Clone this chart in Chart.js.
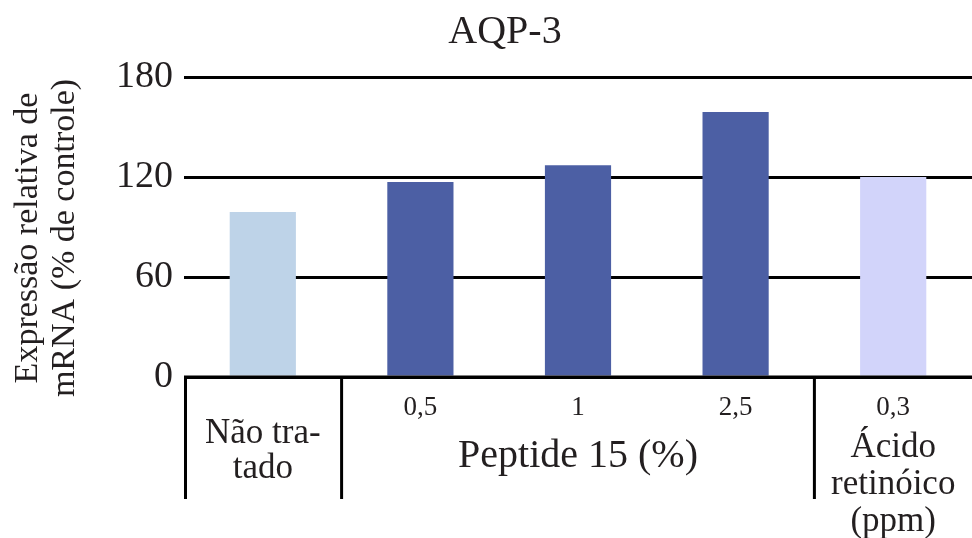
<!DOCTYPE html>
<html>
<head>
<meta charset="utf-8">
<script src="https://cdn.jsdelivr.net/npm/chart.js@4"></script>
<style>
  html, body { margin: 0; padding: 0; background: #fff; }
</style>
</head>
<body>
<canvas id="myChart" width="972" height="538"></canvas>
<script>
// Data

const categories = ["Não tratado", "Peptide 15 0,5", "Peptide 15 1", "Peptide 15 2,5", "Ácido retinóico 0,3"];
const tickLabels = ["", "0,5", "1", "2,5", "0,3"];
const values = [99, 117, 127, 159, 120];
const barColors = ["#bed3e8", "#4c5fa4", "#4c5fa4", "#4c5fa4", "#d2d4fa"];
const yTicks = [0, 60, 120, 180];

const titleText = "AQP-3";
const yTitleLines = ["Expressão relativa de", "mRNA (% de controle)"];

// groups under the axis: first index, last index, text lines
const groupNames = [["Não tra-", "tado"], ["Peptide 15 (%)"], ["Ácido", "retinóico", "(ppm)"]];
const groupFrom = [0, 1, 4];
const groupTo = [0, 3, 4];

const ink = "#231f20";
const serif = "'Liberation Serif', 'DejaVu Serif', serif";

// Plugin for title, y title and the table under the x axis

const decorations = {
    id: "decorations",
    afterDraw(chart) {
        const ctx = chart.ctx;
        const area = chart.chartArea;
        const x = chart.scales.x;
        const half = (x.getPixelForValue(1) - x.getPixelForValue(0)) / 2;

        ctx.save();
        ctx.fillStyle = ink;
        ctx.textAlign = "center";
        ctx.textBaseline = "middle";

        // title
        ctx.font = "40px " + serif;
        ctx.fillText(titleText, 505, 32);

        // y axis title
        ctx.save();
        ctx.translate(0, 238);
        ctx.rotate(-Math.PI / 2);
        ctx.font = "34px " + serif;
        ctx.fillText(yTitleLines[0], 0, 28);
        ctx.fillText(yTitleLines[1], 0, 65);
        ctx.restore();

        // base line and separators
        ctx.strokeStyle = "#000";
        ctx.lineWidth = 3;
        ctx.beginPath();
        ctx.moveTo(area.left, area.bottom);
        ctx.lineTo(area.right, area.bottom);
        ctx.stroke();

        const seps = [area.left + 1.5];
        groupFrom.forEach((f, i) => {
            if (i > 0) seps.push(x.getPixelForValue(f) - half);
        });
        seps.forEach(sx => {
            ctx.beginPath();
            ctx.moveTo(sx, area.bottom);
            ctx.lineTo(sx, 499);
            ctx.stroke();
        });

        // group labels
        groupNames.forEach((lines, i) => {
            const cx = (x.getPixelForValue(groupFrom[i]) + x.getPixelForValue(groupTo[i])) / 2;
            let y0, step;
            if (lines.length === 1) {
                ctx.font = "40px " + serif;
                y0 = 456; step = 0;
            } else if (lines.length === 2) {
                ctx.font = "35px " + serif;
                y0 = 434; step = 35;
            } else {
                ctx.font = "35px " + serif;
                y0 = 448; step = 37;
            }
            lines.forEach((t, k) => ctx.fillText(t, cx, y0 + k * step));
        });

        ctx.restore();
    }
};

// Config

const config = {
    type: "bar",
    data: {
        labels: categories,
        datasets: [
            {
                data: values,
                backgroundColor: barColors,
                borderWidth: 0,
                barPercentage: 0.42,
                categoryPercentage: 1
            }
        ]
    },
    options: {
        responsive: false,
        animation: false,
        devicePixelRatio: 1,
        layout: {
            padding: { top: 77, right: 0, left: 0, bottom: 0 }
        },
        plugins: {
            legend: { display: false },
            tooltip: { enabled: false }
        },
        scales: {
            x: {
                grid: { display: false, drawTicks: false },
                border: { display: false },
                ticks: {
                    color: ink,
                    font: { family: serif, size: 27 },
                    padding: 15,
                    maxRotation: 0,
                    autoSkip: false,
                    callback: (v, i) => tickLabels[i]
                },
                afterFit: (scale) => { scale.height = 161; }
            },
            y: {
                min: 0,
                max: 180,
                afterBuildTicks: (scale) => {
                    scale.ticks = yTicks.map(v => ({ value: v }));
                },
                grid: {
                    color: "#000",
                    lineWidth: 3,
                    drawTicks: false
                },
                border: { display: false },
                ticks: {
                    color: ink,
                    font: { family: serif, size: 38 },
                    padding: 11
                },
                afterFit: (scale) => { scale.width = 184; }
            }
        }
    },
    plugins: [decorations]
};

// Render

const myChart = new Chart(document.getElementById("myChart"), config);
</script>
</body>
</html>
